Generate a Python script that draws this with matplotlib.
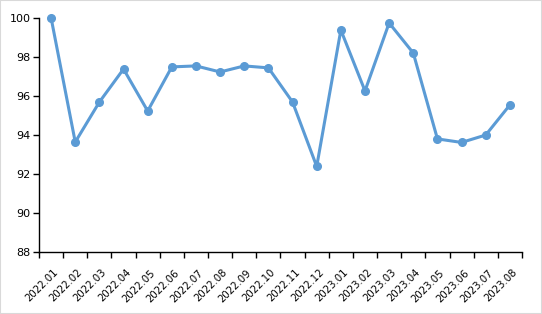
import matplotlib
matplotlib.use("Agg")
import matplotlib.pyplot as plt
from matplotlib.patches import Rectangle
from matplotlib.transforms import ScaledTranslation

months = [
    "2022.01", "2022.02", "2022.03", "2022.04", "2022.05", "2022.06", "2022.07",
    "2022.08", "2022.09", "2022.10", "2022.11", "2022.12", "2023.01", "2023.02",
    "2023.03", "2023.04", "2023.05", "2023.06", "2023.07", "2023.08",
]
values = [
    100.0, 93.64, 95.69, 97.38, 95.23, 97.49, 97.54, 97.23, 97.54, 97.44,
    95.69, 92.39, 99.38, 96.26, 99.74, 98.2, 93.8, 93.62, 94.0, 95.54,
]
y_ticks = [88, 90, 92, 94, 96, 98, 100]

LINE_COLOR = "#5B9BD5"

fig = plt.figure(figsize=(5.42, 3.14), dpi=100)
fig.patch.set_facecolor("white")
fig.patches.append(Rectangle((0, 0), 1, 1, transform=fig.transFigure,
                             fill=False, edgecolor="#D9D9D9", linewidth=1.5))

ax = fig.add_axes([0.072, 0.197, 0.891, 0.746])
x = list(range(len(months)))
ax.plot(x, values, color=LINE_COLOR, linewidth=2.2, marker="o",
        markersize=5.5, markeredgecolor=LINE_COLOR, solid_joinstyle="round",
        clip_on=False)

ax.set_xlim(-0.5, len(months) - 0.5)
ax.set_ylim(88, 100)
ax.set_yticks(y_ticks)
ax.set_yticklabels([str(v) for v in y_ticks], fontsize=8)

ax.set_xticks(x)
ax.set_xticklabels(months, rotation=45, ha="right", rotation_mode="anchor", fontsize=7.3)
ax.tick_params(axis="x", which="major", length=0, pad=11)
shift = ScaledTranslation(2 / 100, 0, fig.dpi_scale_trans)
for lab in ax.get_xticklabels():
    lab.set_transform(lab.get_transform() + shift)
ax.set_xticks([i - 0.5 for i in range(len(months) + 1)], minor=True)
ax.tick_params(axis="x", which="minor", length=4, width=1, direction="out")
ax.tick_params(axis="y", length=4, width=1, direction="out", pad=2)

for side in ("top", "right"):
    ax.spines[side].set_visible(False)
for side in ("left", "bottom"):
    ax.spines[side].set_linewidth(1)
    ax.spines[side].set_color("black")

fig.savefig("out.png", dpi=100)
